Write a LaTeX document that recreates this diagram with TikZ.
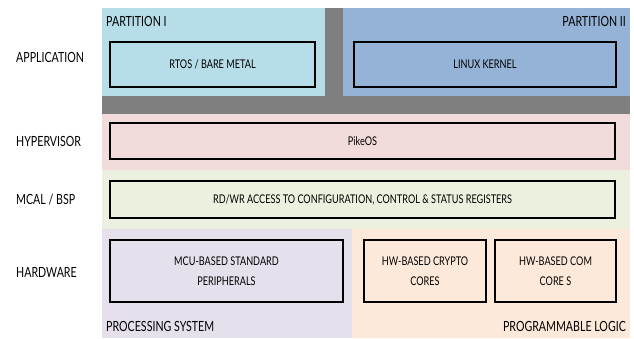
\documentclass[tikz,border=0pt]{standalone}
\usepackage{fontspec}
\setmainfont{Lato}[FakeStretch=0.76]
\definecolor{partone}{HTML}{B7DEE8}
\definecolor{parttwo}{HTML}{95B3D7}
\definecolor{sepgray}{HTML}{7F7F7F}
\definecolor{hyppink}{HTML}{F2DCDB}
\definecolor{bspgreen}{HTML}{EBF1DE}
\definecolor{pslilac}{HTML}{E5E0EC}
\definecolor{plpeach}{HTML}{FDE9D9}

\begin{document}
\begin{tikzpicture}[x=1pt,y=-1pt,
  layer/.style={anchor=west,inner sep=0pt,font=\fontsize{14}{16}\selectfont},
  area/.style={inner sep=0pt,font=\fontsize{14}{16}\selectfont},
  box/.style={draw=black,line width=1.1pt,inner sep=0pt,align=center,
    font=\fontsize{12}{20}\selectfont}]
\useasboundingbox (0,0) rectangle (634,338);
\fill[white] (0,0) rectangle (634,338);

% bands
\fill[sepgray] (102,8) rectangle (630,114);
\fill[partone] (102,8) rectangle (325,96);
\fill[parttwo] (343,8) rectangle (630,96);
\fill[hyppink] (102,114) rectangle (630,170);
\fill[bspgreen] (102,170) rectangle (630,229);
\fill[pslilac] (102,229) rectangle (352,338);
\fill[plpeach] (352,229) rectangle (630,338);

% layer names
\node[layer] (app) at (16,57) {APPLICATION};
\node[layer] (hyp) at (16,141) {HYPERVISOR};
\node[layer] (bsp) at (16,200) {MCAL / BSP};
\node[layer] (hw) at (16,272) {HARDWARE};

% application
\node[area,anchor=west] (p1) at (106,21) {PARTITION I};
\node[area,anchor=east] (p2) at (626,21) {PARTITION II};
\node[box,minimum width=205pt,minimum height=45pt] (rtos) at (212.5,64.5) {RTOS / BARE METAL};
\node[box,minimum width=262pt,minimum height=45pt] (linux) at (485,64.5) {LINUX KERNEL};

% hypervisor and bsp
\node[box,minimum width=505pt,minimum height=36pt] (pike) at (362.5,141) {PikeOS};
\node[box,minimum width=505pt,minimum height=37pt] (regs) at (362.5,199.5) {RD/WR ACCESS TO CONFIGURATION, CONTROL \& STATUS REGISTERS};

% hardware
\node[box,minimum width=233pt,minimum height=62pt] (mcu) at (226.5,271) {MCU-BASED STANDARD\\PERIPHERALS};
\node[box,minimum width=122pt,minimum height=62pt] (crypto) at (425,271) {HW-BASED CRYPTO\\CORES};
\node[box,minimum width=121pt,minimum height=62pt] (com) at (555.5,271) {HW-BASED COM\\CORE S};
\node[area,anchor=west] (ps) at (106,326) {PROCESSING SYSTEM};
\node[area,anchor=east] (pl) at (626,326) {PROGRAMMABLE LOGIC};
\end{tikzpicture}
\end{document}
